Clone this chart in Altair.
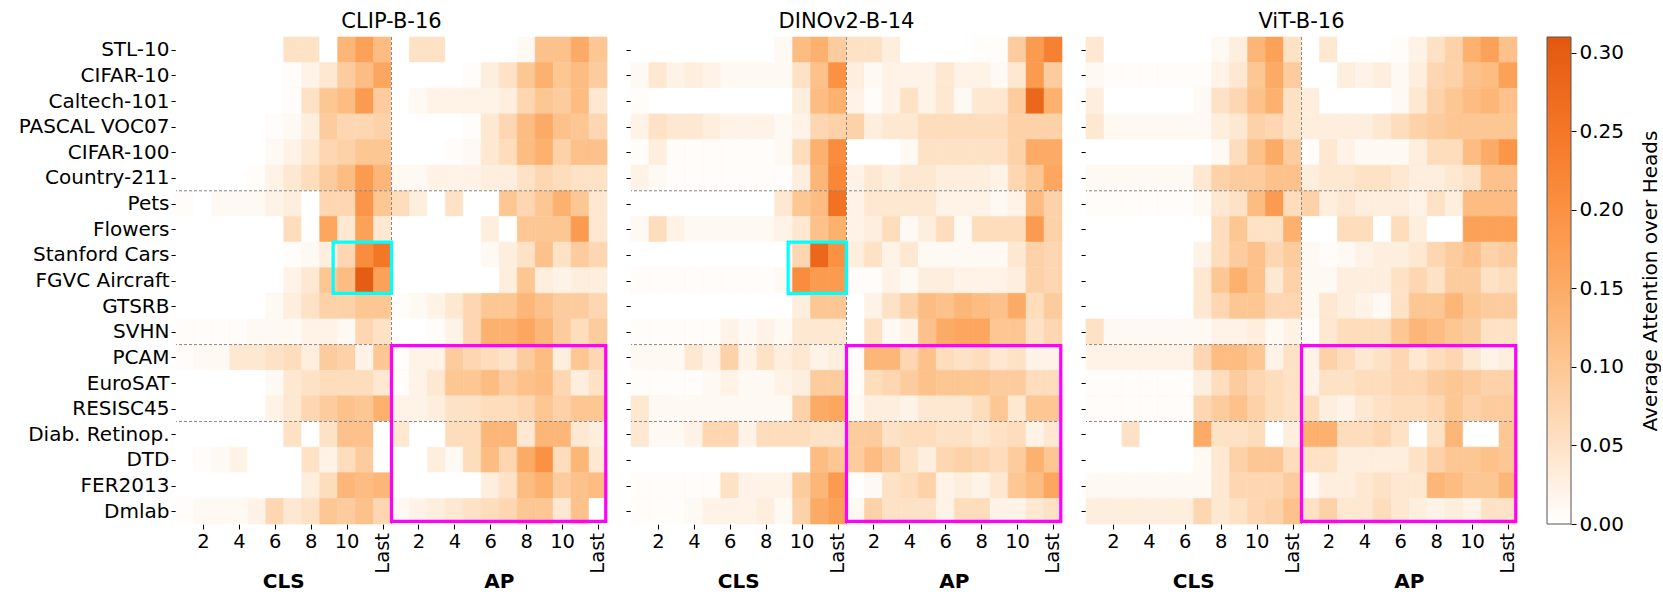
import altair as alt
import pandas as pd

datasets = ["STL-10", "CIFAR-10", "Caltech-101", "PASCAL VOC07", "CIFAR-100", "Country-211",
            "Pets", "Flowers", "Stanford Cars", "FGVC Aircraft", "GTSRB", "SVHN",
            "PCAM", "EuroSAT", "RESISC45", "Diab. Retinop.", "DTD", "FER2013", "Dmlab"]
models = ["CLIP-B-16", "DINOv2-B-14", "ViT-B-16"]
groups = ["CLS", "AP"]
layer_labels = ["2", "4", "6", "8", "10", "Last"]

clip_cls = [
    [0, 0, 0, 0, 0, 0, 0.05, 0.05, 0, 0.13, 0.17, 0.12],
    [0, 0, 0, 0, 0, 0, 0.005, 0.02, 0.04, 0.09, 0.12, 0.16],
    [0, 0, 0, 0, 0, 0, 0.005, 0.05, 0.10, 0.12, 0.18, 0.09],
    [0, 0, 0, 0, 0, 0.005, 0.01, 0.03, 0.09, 0.07, 0.07, 0.08],
    [0, 0, 0, 0, 0, 0.01, 0.02, 0.04, 0.07, 0.08, 0.10, 0.10],
    [0, 0, 0, 0, 0.005, 0.02, 0.04, 0.06, 0.09, 0.12, 0.18, 0.13],
    [0.005, 0, 0.01, 0.01, 0.01, 0.02, 0.03, 0, 0.07, 0.07, 0.19, 0.10],
    [0, 0, 0, 0, 0, 0, 0.06, 0, 0.16, 0.04, 0.17, 0.04],
    [0, 0, 0, 0, 0, 0, 0.005, 0.01, 0.03, 0.07, 0.21, 0.25],
    [0, 0, 0, 0, 0, 0, 0.02, 0.04, 0.10, 0.12, 0.30, 0.17],
    [0, 0, 0, 0, 0, 0.01, 0.03, 0.05, 0.08, 0.08, 0.10, 0.10],
    [0.005, 0.005, 0.005, 0.005, 0.01, 0.01, 0.01, 0.02, 0.02, 0.01, 0.07, 0.05],
    [0.005, 0.01, 0.01, 0.04, 0.04, 0.05, 0.06, 0.03, 0.09, 0.08, 0.02, 0.10],
    [0, 0, 0, 0, 0, 0.01, 0.04, 0.05, 0.06, 0.06, 0.06, 0.04],
    [0, 0, 0, 0, 0, 0.02, 0.04, 0.07, 0.09, 0.11, 0.10, 0.14],
    [0, 0, 0, 0, 0, 0, 0.05, 0, 0.05, 0.11, 0.11, 0],
    [0, 0.005, 0.01, 0.02, 0, 0, 0, 0.05, 0.02, 0.06, 0.09, 0],
    [0, 0, 0, 0, 0, 0, 0, 0.03, 0.06, 0.13, 0.12, 0.13],
    [0.005, 0.01, 0.01, 0.01, 0.02, 0.07, 0.04, 0.05, 0.10, 0.09, 0.11, 0.07],
]
clip_ap = [
    [0, 0.05, 0.05, 0, 0, 0, 0, 0.01, 0.11, 0.11, 0.15, 0.10],
    [0, 0, 0, 0, 0.005, 0.03, 0.05, 0.10, 0.14, 0.10, 0.12, 0.09],
    [0, 0.01, 0.02, 0.02, 0.02, 0.02, 0.03, 0.07, 0.10, 0.09, 0.12, 0.04],
    [0, 0, 0, 0, 0.005, 0.04, 0.07, 0.12, 0.15, 0.11, 0.10, 0.07],
    [0, 0, 0, 0.005, 0.01, 0.04, 0.06, 0.12, 0.14, 0.08, 0.11, 0.11],
    [0.01, 0.01, 0.02, 0.02, 0.02, 0.03, 0.03, 0.05, 0.07, 0.06, 0.05, 0.05],
    [0.06, 0.03, 0, 0.05, 0, 0, 0.10, 0.07, 0.10, 0.14, 0.10, 0.04],
    [0, 0, 0, 0, 0, 0.03, 0, 0.10, 0.10, 0.10, 0.18, 0.04],
    [0, 0, 0, 0, 0, 0.01, 0.03, 0.05, 0.11, 0.05, 0.09, 0.07],
    [0, 0, 0, 0, 0, 0, 0.03, 0.10, 0.03, 0.02, 0.03, 0.03],
    [0.005, 0.01, 0.02, 0.04, 0.07, 0.10, 0.10, 0.13, 0.11, 0.09, 0.09, 0.07],
    [0, 0, 0.005, 0.02, 0.07, 0.14, 0.14, 0.16, 0.13, 0.09, 0.06, 0.09],
    [0.005, 0.02, 0.02, 0.09, 0.07, 0.06, 0.05, 0.09, 0.12, 0.03, 0.10, 0.07],
    [0.005, 0.02, 0.04, 0.10, 0.10, 0.12, 0.09, 0.11, 0.12, 0.07, 0.03, 0.05],
    [0.02, 0.02, 0.03, 0.05, 0.05, 0.06, 0.06, 0.07, 0.10, 0.08, 0.10, 0.10],
    [0.04, 0, 0, 0.06, 0.06, 0.13, 0.13, 0.04, 0.13, 0.13, 0.04, 0.03],
    [0, 0, 0.03, 0.01, 0.06, 0.12, 0.07, 0.15, 0.20, 0.06, 0.13, 0.04],
    [0, 0, 0, 0, 0, 0.03, 0.05, 0.12, 0.14, 0.09, 0.11, 0.12],
    [0.01, 0.02, 0.03, 0.04, 0.05, 0.06, 0.07, 0.10, 0.10, 0.04, 0.11, 0],
]
dino_cls = [
    [0, 0, 0, 0, 0, 0, 0, 0, 0.01, 0.12, 0.14, 0.09],
    [0.01, 0.04, 0.02, 0.03, 0.02, 0.01, 0.01, 0.01, 0.01, 0.05, 0.11, 0.20],
    [0.005, 0, 0, 0, 0, 0, 0, 0, 0, 0.03, 0.12, 0.14],
    [0.02, 0.05, 0.04, 0.04, 0.03, 0.02, 0.02, 0.02, 0.01, 0.02, 0.07, 0.08],
    [0.005, 0.03, 0.005, 0.005, 0.005, 0.005, 0.005, 0.005, 0.01, 0.06, 0.14, 0.21],
    [0.02, 0.01, 0.005, 0.005, 0.005, 0.005, 0.005, 0.005, 0.005, 0.03, 0.13, 0.22],
    [0, 0, 0, 0, 0, 0, 0, 0, 0.04, 0.10, 0.12, 0.26],
    [0.01, 0.06, 0.02, 0.01, 0.01, 0.01, 0.01, 0.01, 0.02, 0.04, 0.11, 0.14],
    [0, 0, 0, 0, 0, 0, 0, 0, 0, 0.07, 0.28, 0.20],
    [0.005, 0.005, 0.005, 0.005, 0.005, 0.005, 0.005, 0.005, 0.01, 0.21, 0.18, 0.18],
    [0, 0, 0, 0, 0, 0, 0, 0, 0, 0.03, 0.10, 0.10],
    [0.005, 0.005, 0.005, 0.005, 0.005, 0.02, 0.01, 0.02, 0.01, 0.04, 0.04, 0.04],
    [0.01, 0.01, 0.01, 0.04, 0.02, 0.08, 0.02, 0.05, 0.03, 0.04, 0.02, 0.03],
    [0.005, 0.005, 0.005, 0.005, 0.01, 0.02, 0.01, 0.01, 0.02, 0.03, 0.09, 0.09],
    [0.04, 0.01, 0.01, 0.01, 0.01, 0.01, 0.01, 0.01, 0.01, 0.08, 0.15, 0.16],
    [0.04, 0.01, 0.01, 0.02, 0.07, 0.07, 0.02, 0.06, 0.06, 0.06, 0.05, 0.05],
    [0, 0, 0, 0, 0, 0, 0, 0, 0, 0, 0.12, 0.10],
    [0.005, 0.005, 0.005, 0.005, 0.005, 0.05, 0.02, 0.02, 0.02, 0.09, 0.13, 0.18],
    [0.005, 0.005, 0.005, 0.01, 0.02, 0.02, 0.02, 0.03, 0.01, 0.08, 0.15, 0.17],
]
dino_ap = [
    [0.05, 0.05, 0.03, 0, 0, 0, 0, 0.005, 0.005, 0.09, 0.18, 0.23],
    [0.03, 0.01, 0.02, 0.02, 0.02, 0.04, 0.02, 0.02, 0.01, 0.04, 0.18, 0.09],
    [0.02, 0.005, 0.02, 0.05, 0.02, 0.04, 0.01, 0.04, 0.04, 0.09, 0.28, 0.14],
    [0.08, 0.03, 0.04, 0.04, 0.06, 0.06, 0.06, 0.06, 0.06, 0.08, 0.08, 0.08],
    [0, 0, 0, 0.01, 0.05, 0.05, 0.05, 0.05, 0.05, 0.08, 0.15, 0.15],
    [0.02, 0.04, 0.03, 0.04, 0.04, 0.03, 0.03, 0.03, 0.02, 0.07, 0.10, 0.16],
    [0.02, 0.04, 0.04, 0.04, 0.04, 0.02, 0.02, 0.02, 0.01, 0.02, 0.12, 0.08],
    [0.02, 0.03, 0.06, 0.01, 0.03, 0.06, 0.01, 0.06, 0.06, 0.06, 0.18, 0.08],
    [0.03, 0.05, 0.02, 0.04, 0.01, 0.01, 0.01, 0.01, 0.01, 0.04, 0.08, 0.07],
    [0.005, 0.005, 0.02, 0.01, 0.03, 0.03, 0.02, 0.02, 0.02, 0.03, 0.08, 0.07],
    [0, 0.02, 0.05, 0.08, 0.12, 0.11, 0.13, 0.12, 0.11, 0.15, 0.06, 0.09],
    [0, 0.05, 0.01, 0.02, 0.11, 0.15, 0.16, 0.16, 0.10, 0.10, 0.05, 0.07],
    [0.005, 0.13, 0.13, 0.07, 0.11, 0.06, 0.05, 0.06, 0.04, 0.05, 0.02, 0.02],
    [0.005, 0.06, 0.07, 0.09, 0.11, 0.10, 0.10, 0.10, 0.09, 0.09, 0.06, 0.06],
    [0.01, 0.03, 0.03, 0.02, 0.04, 0.04, 0.04, 0.06, 0.10, 0.04, 0.10, 0.10],
    [0.09, 0.09, 0.05, 0.06, 0.06, 0.05, 0.05, 0.04, 0.05, 0.06, 0.02, 0.04],
    [0.09, 0.12, 0.09, 0.05, 0.03, 0.07, 0.08, 0.07, 0.06, 0.09, 0.14, 0.10],
    [0, 0.01, 0.05, 0.06, 0.08, 0.02, 0.03, 0.02, 0.04, 0.10, 0.12, 0.16],
    [0.01, 0.08, 0.05, 0.05, 0.05, 0.02, 0.06, 0.06, 0.02, 0.02, 0.04, 0.05],
]
vit_cls = [
    [0.04, 0, 0, 0, 0, 0, 0, 0.01, 0.03, 0.13, 0.17, 0.05],
    [0.01, 0.005, 0.005, 0.005, 0.005, 0.005, 0.005, 0.02, 0.04, 0.10, 0.15, 0.09],
    [0.03, 0, 0, 0, 0, 0, 0.01, 0.05, 0.07, 0.11, 0.14, 0.05],
    [0.04, 0.01, 0.01, 0.01, 0.01, 0.01, 0.01, 0.03, 0.04, 0.08, 0.07, 0.05],
    [0, 0, 0, 0, 0, 0, 0, 0.01, 0.06, 0.11, 0.15, 0.09],
    [0.01, 0.01, 0.01, 0.01, 0.01, 0.01, 0.04, 0.08, 0.09, 0.09, 0.11, 0.11],
    [0.005, 0.005, 0.005, 0.005, 0.005, 0.005, 0.01, 0.04, 0.05, 0.12, 0.18, 0.06],
    [0, 0, 0, 0, 0, 0, 0, 0.06, 0.10, 0.05, 0.05, 0.14],
    [0, 0, 0, 0, 0, 0, 0.02, 0.06, 0.09, 0.11, 0.07, 0.09],
    [0, 0, 0, 0, 0, 0, 0.04, 0.10, 0.14, 0.11, 0.04, 0.08],
    [0, 0, 0, 0, 0, 0, 0.04, 0.07, 0.10, 0.10, 0.07, 0.07],
    [0.05, 0.01, 0.01, 0.01, 0.01, 0.01, 0.01, 0.02, 0.02, 0.03, 0.01, 0.02],
    [0.02, 0.02, 0.02, 0.02, 0.02, 0.02, 0.07, 0.12, 0.12, 0.10, 0.02, 0.05],
    [0.005, 0.005, 0.005, 0.005, 0.005, 0.005, 0.03, 0.06, 0.09, 0.07, 0.06, 0.05],
    [0.005, 0.005, 0.005, 0.005, 0.005, 0.005, 0.07, 0.09, 0.11, 0.08, 0.06, 0.05],
    [0, 0, 0.05, 0, 0, 0, 0.15, 0.05, 0.05, 0.06, 0, 0.03],
    [0, 0, 0, 0, 0, 0, 0.01, 0.04, 0.08, 0.10, 0.10, 0.06],
    [0.01, 0.01, 0.01, 0.01, 0.01, 0.01, 0.01, 0.04, 0.07, 0.07, 0.07, 0.09],
    [0.03, 0.03, 0.03, 0.03, 0.03, 0.03, 0.07, 0.04, 0.05, 0.07, 0.08, 0.11],
]
vit_ap = [
    [0, 0.04, 0, 0, 0, 0.005, 0.02, 0.05, 0.08, 0.14, 0.17, 0.11],
    [0, 0, 0.03, 0.02, 0.03, 0.01, 0.03, 0.07, 0.08, 0.11, 0.12, 0.17],
    [0.03, 0, 0, 0, 0, 0.01, 0.04, 0.08, 0.10, 0.12, 0.13, 0.11],
    [0.03, 0.03, 0.03, 0.03, 0.04, 0.06, 0.08, 0.09, 0.10, 0.10, 0.10, 0.10],
    [0.005, 0.04, 0.02, 0.01, 0.01, 0.01, 0.03, 0.06, 0.06, 0.12, 0.15, 0.19],
    [0.03, 0.04, 0.04, 0.05, 0.05, 0.04, 0.03, 0.03, 0.04, 0.05, 0.11, 0.11],
    [0.08, 0.03, 0.04, 0.03, 0.03, 0.03, 0.02, 0.05, 0.03, 0.12, 0.12, 0.12],
    [0, 0, 0.06, 0.06, 0, 0.06, 0.03, 0, 0, 0.17, 0.17, 0.17],
    [0.01, 0.005, 0.01, 0.02, 0.03, 0.03, 0.04, 0.07, 0.09, 0.11, 0.08, 0.09],
    [0.01, 0.01, 0.03, 0.03, 0.03, 0.05, 0.07, 0.05, 0.09, 0.09, 0.05, 0.06],
    [0.01, 0.04, 0.03, 0.02, 0.01, 0.05, 0.10, 0.10, 0.13, 0.10, 0.09, 0.09],
    [0.005, 0.04, 0.06, 0.06, 0.06, 0.10, 0.13, 0.12, 0.10, 0.09, 0.05, 0.05],
    [0.02, 0.08, 0.06, 0.04, 0.05, 0.07, 0.04, 0.06, 0.07, 0.04, 0.02, 0.03],
    [0.02, 0.05, 0.05, 0.06, 0.06, 0.07, 0.07, 0.09, 0.10, 0.09, 0.08, 0.08],
    [0.06, 0.03, 0.02, 0.04, 0.05, 0.06, 0.06, 0.07, 0.10, 0.08, 0.09, 0.09],
    [0.14, 0.14, 0.06, 0.06, 0.07, 0.05, 0, 0.05, 0.13, 0, 0, 0.10],
    [0.05, 0.05, 0.03, 0.03, 0.03, 0.03, 0.05, 0.08, 0.10, 0.10, 0.11, 0.10],
    [0.01, 0.03, 0.03, 0.04, 0.05, 0.04, 0.04, 0.13, 0.12, 0.10, 0.10, 0.13],
    [0.05, 0.08, 0.04, 0.04, 0.06, 0.04, 0.03, 0.02, 0.03, 0.02, 0.05, 0.05],
]

color_values = [0, 0.05, 0.10, 0.15, 0.20, 0.25, 0.31]
color_hex = ["#ffffff", "#fee2c6", "#fdc794", "#fcab66", "#fb9142", "#f47727", "#e2570f"]
vmax = 0.31

FONT = "DejaVu Sans"
W, H = 431, 487
N_LAYERS = 12
N_ROWS = len(datasets)

color_scale = alt.Scale(domain=color_values, range=color_hex, interpolate="rgb", clamp=True)
x_scale = alt.Scale(domain=[0, 2 * N_LAYERS], nice=False, zero=False)
y_scale = alt.Scale(domain=[0, N_ROWS], reverse=True, nice=False, zero=False)

name_array = "[" + ",".join("'" + d + "'" for d in datasets) + "]"
tick_pos = [c + 0.5 for c in range(2 * N_LAYERS) if (c % N_LAYERS) % 2 == 1]


def heat_df(cls_vals, ap_vals):
    recs = []
    for r in range(N_ROWS):
        row = list(cls_vals[r]) + list(ap_vals[r])
        for c, v in enumerate(row):
            recs.append({"c0": c, "c1": c + 1, "r0": r, "r1": r + 1, "v": v,
                         "dataset": datasets[r]})
    return pd.DataFrame(recs)


def panel(title, cls_vals, ap_vals, show_labels):
    df = heat_df(cls_vals, ap_vals)
    y_axis = alt.Axis(values=[r + 0.5 for r in range(N_ROWS)], labels=show_labels,
                      labelExpr=name_array + "[floor(datum.value)]", title=None,
                      tickSize=5, labelPadding=2, domain=False, grid=False,
                      labelOverlap=False, labelFontSize=20)
    x_axis = alt.Axis(values=tick_pos, title=None, tickSize=5, labelPadding=3,
                      labelExpr="(floor(datum.value) % 12) == 11 ? '' : '' + ((floor(datum.value) % 12) + 1)",
                      labelAngle=0, domain=False, grid=False, labelOverlap=False,
                      labelFontSize=19.5)

    def xq(field):
        return alt.X(field, scale=x_scale, axis=x_axis)

    def yq(field):
        return alt.Y(field, scale=y_scale, axis=y_axis)

    heat = alt.Chart(df).mark_rect(strokeWidth=0.6).encode(
        x=xq("c0:Q"),
        x2="c1:Q",
        y=yq("r0:Q"),
        y2="r1:Q",
        fill=alt.Fill("v:Q", scale=color_scale, legend=None),
        stroke=alt.Stroke("v:Q", scale=color_scale, legend=None),
        tooltip=["dataset:N", "v:Q"],
    )
    hlines = alt.Chart(pd.DataFrame({"yb": [6, 12, 15]})).mark_rule(
        color="#888888", strokeDash=[3, 2], strokeWidth=1).encode(y=yq("yb:Q"))
    vline = alt.Chart(pd.DataFrame({"xb": [N_LAYERS]})).mark_rule(
        color="#888888", strokeDash=[3, 2], strokeWidth=1).encode(x=xq("xb:Q"))
    layers = [heat, hlines, vline]
    mag = alt.Chart(pd.DataFrame({"a": [12.0], "b": [23.93], "c": [12.04], "d": [18.9]})).mark_rect(
        fillOpacity=0, stroke="#ff00ff", strokeWidth=3.2).encode(
        x=xq("a:Q"), x2="b:Q", y=yq("c:Q"), y2="d:Q")
    layers.append(mag)
    if title != "ViT-B-16":
        cy = alt.Chart(pd.DataFrame({"a": [8.75], "b": [12.0], "c": [8.0], "d": [10.0]})).mark_rect(
            fillOpacity=0, stroke="#00ffff", strokeWidth=3.2).encode(
            x=xq("a:Q"), x2="b:Q", y=yq("c:Q"), y2="d:Q")
        layers.append(cy)
    last_df = pd.DataFrame({"x": [N_LAYERS - 0.5, 2 * N_LAYERS - 0.5], "t": [layer_labels[-1]] * 2})
    last_txt = alt.Chart(last_df).mark_text(angle=270, align="right", baseline="middle",
                                            fontSize=19.5, font=FONT, color="black").encode(
        x=xq("x:Q"), y=alt.value(H + 9), text="t:N")
    grp_df = pd.DataFrame({"x": [N_LAYERS / 2, 1.5 * N_LAYERS], "t": groups})
    grp_txt = alt.Chart(grp_df).mark_text(baseline="middle", fontSize=20, font=FONT,
                                          fontWeight="bold", color="black").encode(
        x=xq("x:Q"), y=alt.value(H + 58), text="t:N")
    layers += [last_txt, grp_txt]
    return alt.layer(*layers).properties(
        width=W, height=H,
        title=alt.TitleParams(title, fontSize=21, font=FONT, fontWeight="normal",
                              anchor="middle", offset=5, color="black"))


p1 = panel(models[0], clip_cls, clip_ap, True)
p2 = panel(models[1], dino_cls, dino_ap, False)
p3 = panel(models[2], vit_cls, vit_ap, False)

grad = alt.LinearGradient(
    gradient="linear",
    stops=[alt.GradientStop(color=c, offset=v / vmax) for v, c in zip(color_values, color_hex)],
    x1=0, x2=0, y1=1, y2=0)
cbar = alt.Chart(pd.DataFrame({"lo": [0.0], "hi": [vmax]})).mark_rect(
    fill=grad, stroke="#555555", strokeWidth=1).encode(
    y=alt.Y("lo:Q", scale=alt.Scale(domain=[0, vmax], nice=False, zero=False),
            axis=alt.Axis(orient="right", values=[0, 0.05, 0.10, 0.15, 0.20, 0.25, 0.30],
                          format=".2f", tickSize=5, labelPadding=3, domain=False, grid=False,
                          labelOverlap=False, labelFontSize=20,
                          title="Average Attention over Heads", titleAngle=270,
                          titleBaseline="top", titlePadding=17, titleFontSize=20,
                          titleFontWeight="normal")),
    y2="hi:Q",
    x=alt.value(0), x2=alt.value(24),
).properties(width=24, height=H)

chart = alt.hconcat(
    alt.hconcat(p1, p2, p3, spacing=17),
    cbar, spacing=28,
).properties(
    padding={"left": 18, "top": 10, "right": 0, "bottom": 0},
).configure_axis(
    labelFont=FONT, labelFontSize=20, labelColor="black", tickColor="black",
    titleFont=FONT, titleColor="black", labelOverlap=False,
).configure_view(stroke=None)

chart.save("out.html", embed_options={"renderer": "svg", "actions": False})
